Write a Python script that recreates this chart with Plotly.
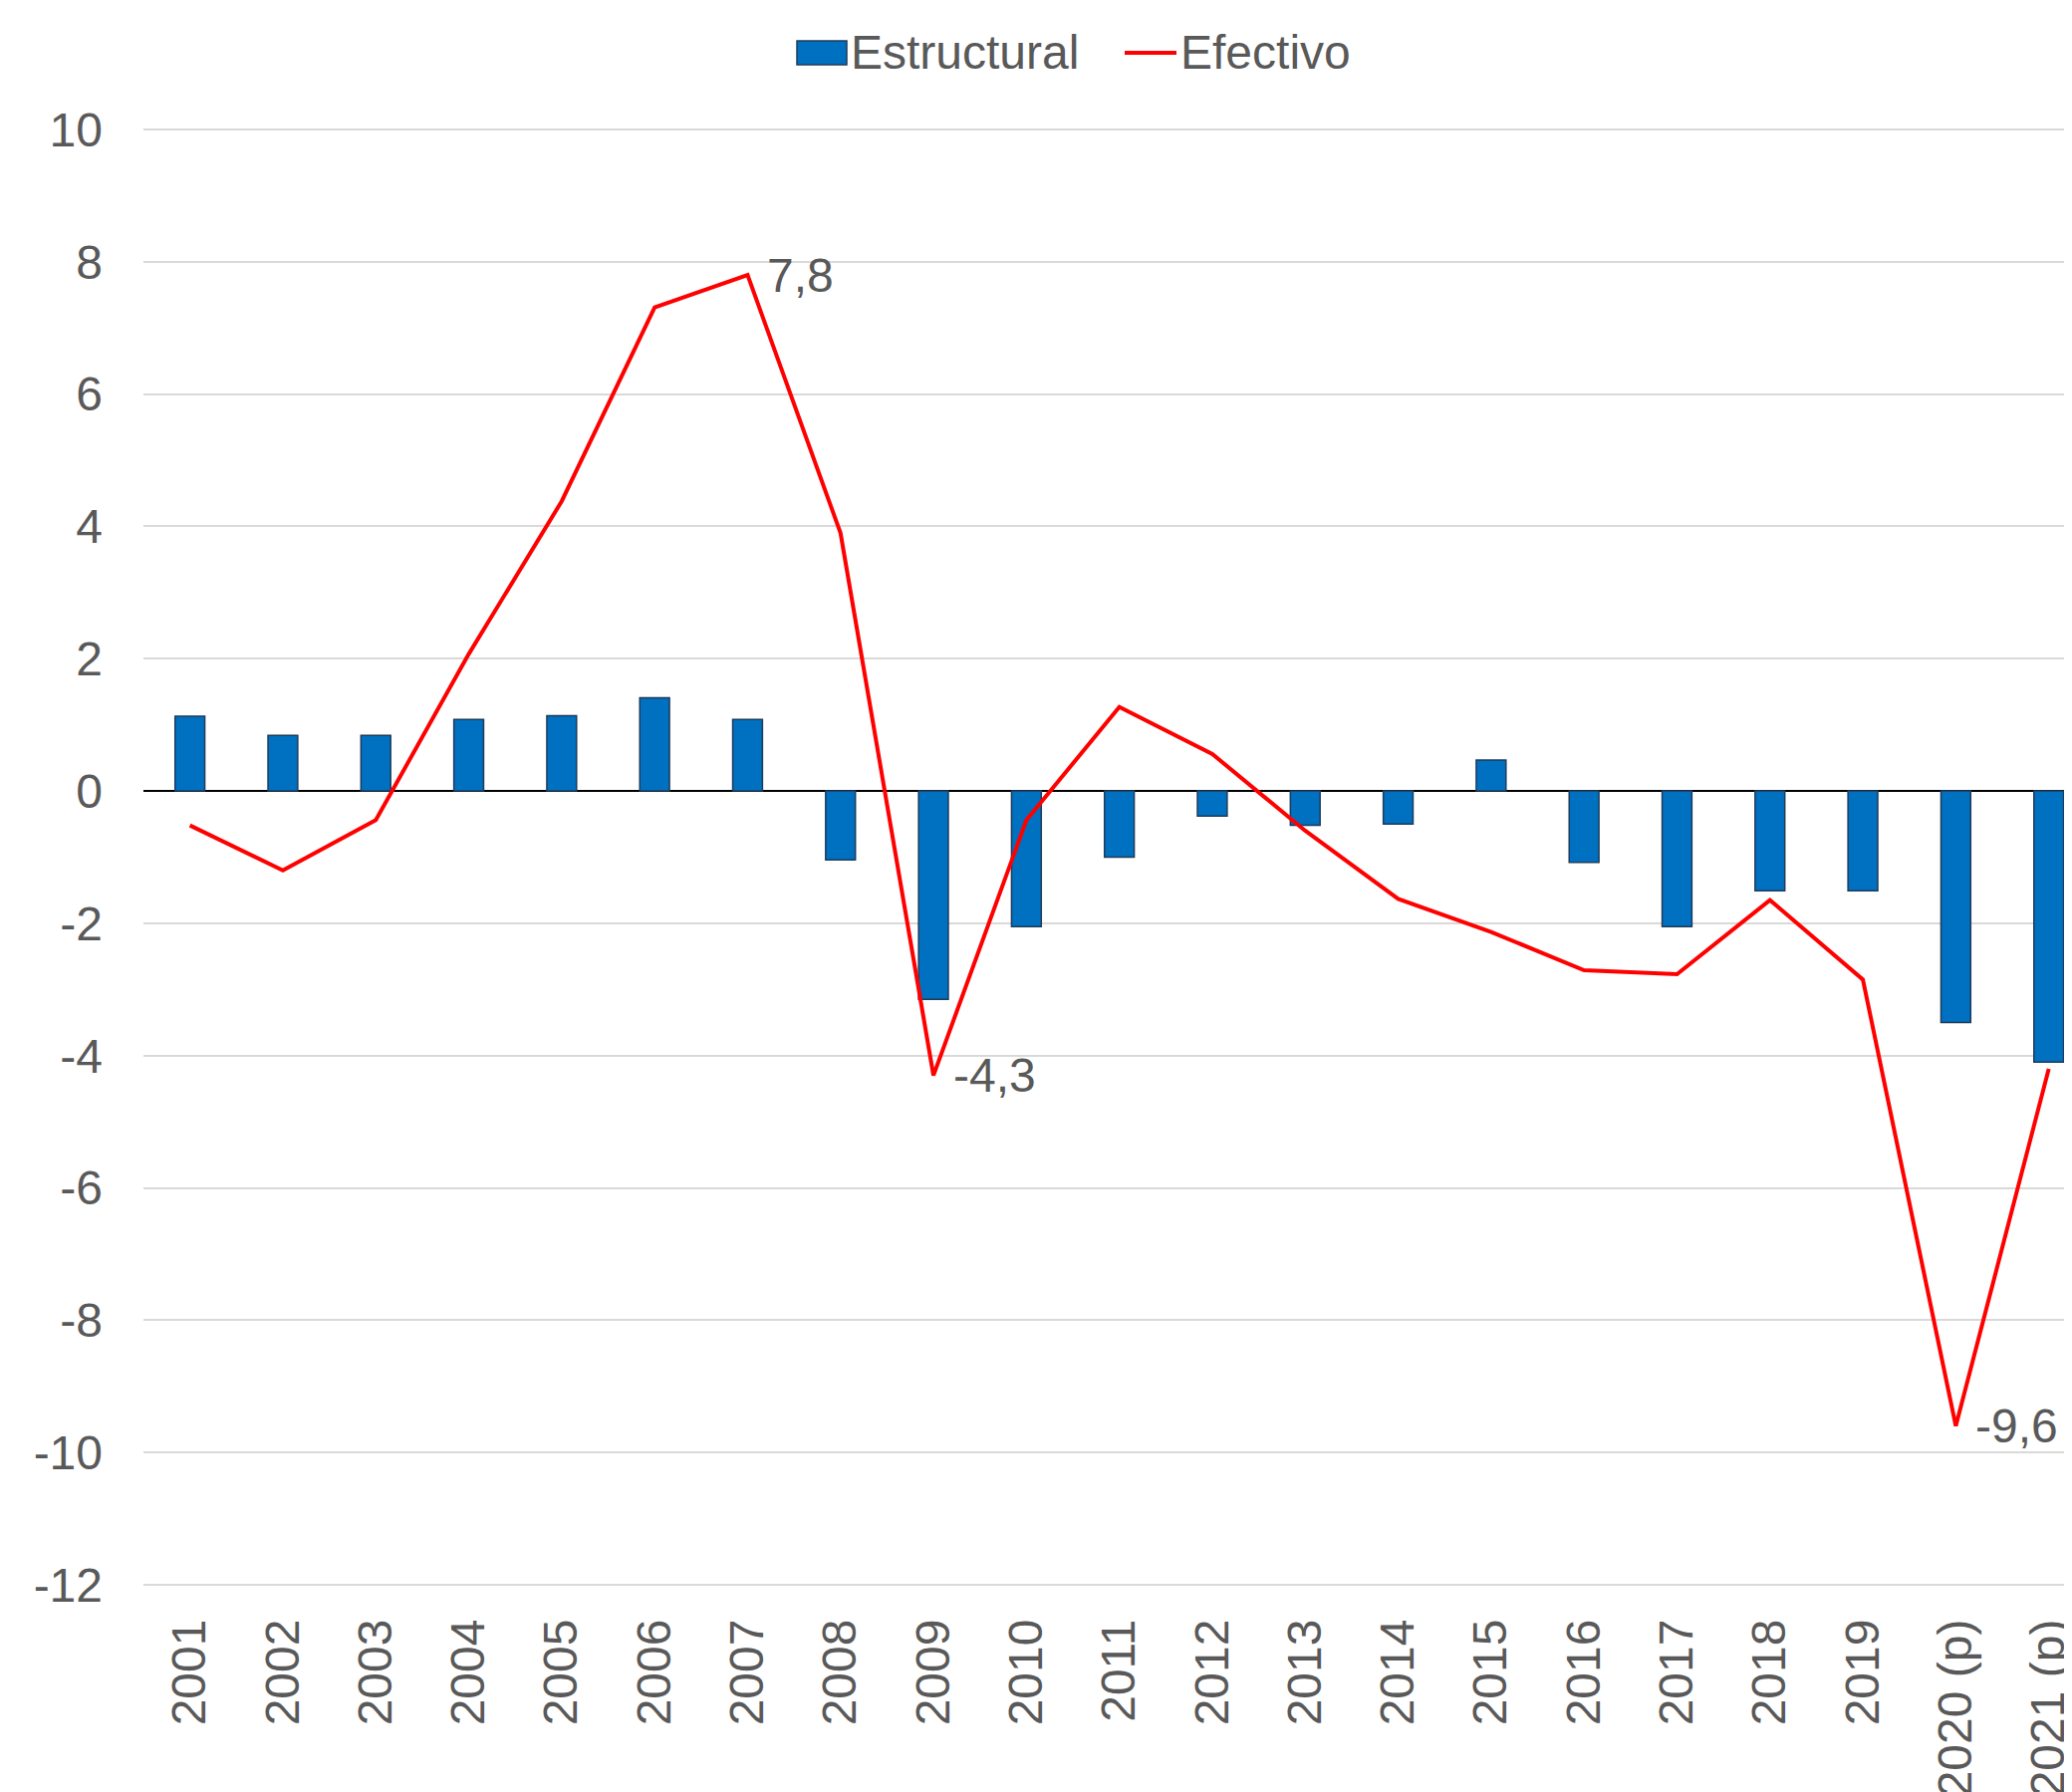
import plotly.graph_objects as go

categories = ["2001", "2002", "2003", "2004", "2005", "2006", "2007", "2008", "2009", "2010",
              "2011", "2012", "2013", "2014", "2015", "2016", "2017", "2018", "2019",
              "2020 (p)", "2021 (p)"]
estructural = [1.13, 0.84, 0.84, 1.08, 1.14, 1.41, 1.08, -1.04, -3.15, -2.05,
               -1.0, -0.38, -0.52, -0.5, 0.47, -1.08, -2.05, -1.51, -1.51, -3.5, -4.1]
efectivo = [-0.52, -1.2, -0.44, 2.07, 4.38, 7.31, 7.8, 3.9, -4.3, -0.44,
            1.27, 0.56, -0.6, -1.63, -2.13, -2.71, -2.77, -1.65, -2.85, -9.6, -4.2]
labeled = {"2007": "7,8", "2009": "-4,3", "2020 (p)": "-9,6"}
y_ticks = [10, 8, 6, 4, 2, 0, -2, -4, -6, -8, -10, -12]

TEXT = "#595959"
FONT = "Liberation Sans, Arial, sans-serif"
FS = 48
BAR_COLOR = "#0070C0"
LINE_COLOR = "#FF0000"

# page is 2080x1799; the plot div sits 8px in from the top-left (body margin)
OFF = 8
W, H = 2080 - OFF, 1799 - OFF
PLOT_L, PLOT_T, PLOT_B, PLOT_R = 144, 128, 1593, 2080   # page pixels
ML, MT = PLOT_L - OFF, PLOT_T - OFF
MB = H - (PLOT_B - OFF)
MR = W - (PLOT_R - OFF)
PW, PH = W - ML - MR, H - MT - MB


def px_x(px):
    return (px - PLOT_L) / PW


def px_y(py):
    return (PLOT_B - py) / PH


xs = list(range(len(categories)))

fig = go.Figure()
fig.add_trace(go.Bar(
    x=xs, y=estructural, name="Estructural",
    marker=dict(color=BAR_COLOR, line=dict(color="#1F3B5A", width=1.5)),
    showlegend=False,
))
fig.add_trace(go.Scatter(
    x=xs, y=efectivo, name="Efectivo", mode="lines",
    line=dict(color=LINE_COLOR, width=4), showlegend=False,
))

for cat, txt in labeled.items():
    i = categories.index(cat)
    fig.add_annotation(x=i, y=efectivo[i], text=txt, showarrow=False,
                       xanchor="left", yanchor="middle", xshift=18,
                       font=dict(size=FS, color=TEXT, family=FONT))

# custom legend (page-pixel layout converted to paper coordinates)
fig.add_shape(type="rect", xref="paper", yref="paper",
              x0=px_x(800), x1=px_x(850), y0=px_y(65), y1=px_y(41),
              fillcolor=BAR_COLOR, line=dict(color="#1F3B5A", width=1.5))
fig.add_annotation(xref="paper", yref="paper", x=px_x(852), y=px_y(53),
                   text="Estructural", showarrow=False, xanchor="left", yanchor="middle",
                   font=dict(size=FS, color=TEXT, family=FONT))
fig.add_shape(type="line", xref="paper", yref="paper",
              x0=px_x(1129), x1=px_x(1181), y0=px_y(53), y1=px_y(53),
              line=dict(color=LINE_COLOR, width=4))
fig.add_annotation(xref="paper", yref="paper", x=px_x(1183), y=px_y(53),
                   text="Efectivo", showarrow=False, xanchor="left", yanchor="middle",
                   font=dict(size=FS, color=TEXT, family=FONT))

fig.update_layout(
    width=W, height=H,
    margin=dict(l=ML, r=MR, t=MT, b=MB, autoexpand=False),
    plot_bgcolor="white", paper_bgcolor="white",
    font=dict(family=FONT, size=FS, color=TEXT),
    bargap=0.68,
    showlegend=False,
    xaxis=dict(
        range=[-0.5, 20.25], tickmode="array",
        tickvals=xs, ticktext=categories,
        tickangle=-90, showgrid=False, showline=False, zeroline=False,
        ticks="", tickfont=dict(size=FS, color=TEXT), ticklabelstandoff=22,
        ticklabeloverflow="allow", automargin=False,
    ),
    yaxis=dict(
        range=[-12.03, 10.03], tickvals=y_ticks, ticktext=[str(v) for v in y_ticks],
        showgrid=True, gridcolor="#D9D9D9", gridwidth=1.5,
        zeroline=True, zerolinecolor="#000000", zerolinewidth=1.5,
        showline=False, ticks="", ticklabelstandoff=40,
        tickfont=dict(size=FS, color=TEXT), automargin=False,
    ),
)

fig.write_html("out.html")
